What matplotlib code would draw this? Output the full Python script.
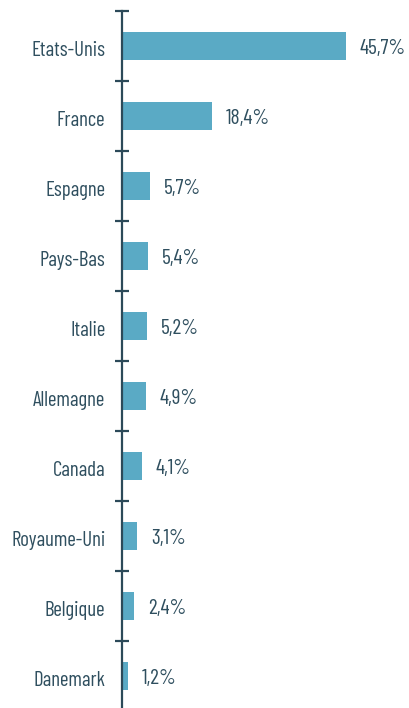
import matplotlib.pyplot as plt
import matplotlib.ticker as mticker
import matplotlib.transforms as mtransforms
import numpy as np

pays = ['Etats-Unis', 'France', 'Espagne', 'Pays-Bas', 'Italie',
        'Allemagne', 'Canada', 'Royaume-Uni', 'Belgique', 'Danemark']
valeurs = [45.7, 18.4, 5.7, 5.4, 5.2, 4.9, 4.1, 3.1, 2.4, 1.2]
etiquettes = ['45,7%', '18,4%', '5,7%', '5,4%', '5,2%',
              '4,9%', '4,1%', '3,1%', '2,4%', '1,2%']

bar_col = '#5aaac5'
txt_col = '#2f4f5f'
axis_col = '#2c4a59'

plt.rcParams['font.family'] = ['Barlow Condensed', 'Barlow Semi Condensed', 'DejaVu Sans']

fig = plt.figure(figsize=(4.10, 7.08), dpi=100)
ax = fig.add_axes([122/410, 0.0, 1 - 122/410, 1 - 11/708])

y = np.arange(len(pays))
ax.barh(y, valeurs, height=0.4, color=bar_col)

for yi, v, lab in zip(y, valeurs, etiquettes):
    ax.annotate(lab, (v, yi), xytext=(10, -1.5), textcoords='offset points',
                va='center', ha='left', fontsize=15.5, color=txt_col)

ax.set_xlim(0, (410 - 122) / 4.9)
ax.set_ylim((708 - 46) / 70, -0.5)

for s in ['top', 'right', 'bottom']:
    ax.spines[s].set_visible(False)
ax.spines['left'].set_color(axis_col)
ax.spines['left'].set_linewidth(1.6)
ax.set_xticks([])

# major ticks between categories, labels on minor ticks at centres
ax.yaxis.set_major_locator(mticker.FixedLocator(np.arange(-0.5, 9.0, 1.0)))
ax.yaxis.set_major_formatter(mticker.NullFormatter())
ax.yaxis.set_minor_locator(mticker.FixedLocator(y))
ax.yaxis.set_minor_formatter(mticker.FixedFormatter(pays))
ax.tick_params(axis='y', which='major', direction='inout', length=10,
               width=1.6, color=axis_col)
ax.tick_params(axis='y', which='minor', length=0, pad=12,
               labelsize=15, labelcolor=txt_col)

shift = mtransforms.ScaledTranslation(0, -1.5/72, fig.dpi_scale_trans)
for t in ax.get_yminorticklabels():
    t.set_transform(t.get_transform() + shift)

fig.savefig('out.png', dpi=100)
